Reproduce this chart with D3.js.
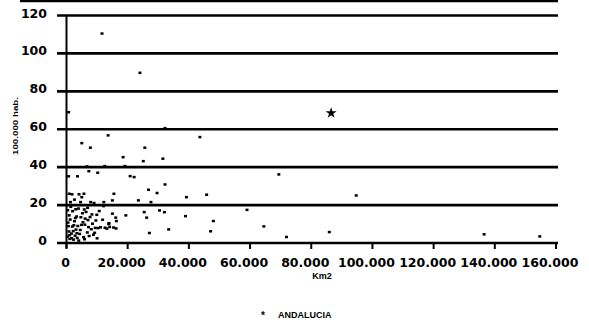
<!DOCTYPE html>
<html>
<head>
<meta charset="utf-8">
<script src="https://cdn.jsdelivr.net/npm/d3@7"></script>
<style>
  html, body { margin: 0; padding: 0; background: #fff; }
  svg { display: block; }
  .tick-label { font-family: "DejaVu Sans", sans-serif; font-weight: bold; font-size: 12.5px; fill: #000; }
  .small { font-family: "Liberation Sans", Arial, sans-serif; font-weight: bold; fill: #000; }
</style>
</head>
<body>
<svg id="chart" width="589" height="322"></svg>
<script>
// ---- data ----
const xTicks = [0, 20000, 40000, 60000, 80000, 100000, 120000, 140000, 160000];
const xTickLabels = ["0", "20.000", "40.000", "60.000", "80.000", "100.000", "120.000", "140.000", "160.000"];
const yTicks = [0, 20, 40, 60, 80, 100, 120];
const yTickLabels = ["0", "20", "40", "60", "80", "100", "120"];

// scattered points: area (thousand km2) and value (per 100.000 hab.)
const pointsKm2 = [
  11.6, 24.0, 0.7, 13.6, 5.0, 7.8, 25.6, 18.5, 25.1, 31.5, 32.2, 43.6,
  6.7, 7.3, 10.2, 12.5, 19.1, 0.7, 3.6, 20.8, 22.1,
  32.2, 29.6, 26.8, 15.5, 0.9, 39.2, 23.5, 27.6, 15.0, 12.2, 69.4, 45.8, 94.7,
  1.8, 5.0, 4.1, 5.7, 2.6, 4.6, 7.9, 9.0, 1.3,
  25.4, 30.4, 32.0, 26.2, 38.9, 48.0, 47.1, 64.5, 33.4, 27.1, 59.0, 71.9, 85.9, 136.5, 154.7,
  19.4, 15.0, 16.3, 13.9, 16.1,
  0.3, 0.8, 0.5, 1.1, 0.9, 0.4, 1.6, 2.3, 1.9, 2.8, 1.2, 3.1,
  2.0, 3.5, 2.6, 4.3, 3.9, 4.9, 3.3, 5.6, 4.5, 6.1, 5.2, 6.8,
  1.4, 7.2, 2.9, 6.4, 8.1, 5.9, 3.7, 7.7, 8.8, 4.0, 9.4, 6.9,
  2.2, 5.4, 10.3, 7.4, 3.0, 8.5, 11.1, 9.9, 1.0, 4.7, 12.6, 10.7,
  13.2, 6.0, 14.1, 11.8, 15.4, 9.2, 16.2, 13.8, 8.3, 0.6, 10.0, 12.1,
  2.4, 5.8, 7.0, 3.4, 1.7, 9.6
];
const pointsValue = [
  110.5, 89.8, 69.0, 56.8, 52.7, 50.3, 50.3, 45.3, 43.2, 44.5, 60.6, 55.9,
  40.4, 37.9, 37.1, 40.6, 40.6, 35.2, 35.2, 35.3, 34.8,
  30.9, 26.4, 28.1, 26.0, 26.0, 24.2, 22.5, 21.6, 22.5, 21.6, 36.2, 25.5, 25.1,
  25.7, 24.2, 25.7, 26.0, 22.9, 21.6, 21.6, 21.1, 21.6,
  16.3, 17.2, 16.3, 13.4, 14.2, 11.6, 6.2, 8.8, 7.2, 5.3, 17.5, 3.2, 5.8, 4.6, 3.5,
  14.6, 15.5, 11.6, 10.5, 13.4,
  3.4, 6.1, 10.8, 2.2, 14.6, 17.3, 5.0, 1.8, 8.7, 3.9, 12.4, 7.1,
  16.8, 2.7, 11.5, 4.8, 18.2, 9.6, 14.0, 3.1, 6.9, 12.9, 15.7, 5.6,
  19.1, 8.4, 13.2, 16.4, 7.3, 2.0, 9.0, 13.7, 4.4, 1.3, 8.0, 18.6,
  6.3, 11.0, 7.9, 3.7, 17.8, 10.2, 8.3, 14.9, 4.2, 13.6, 8.1, 16.9,
  7.6, 9.7, 8.5, 12.3, 8.2, 5.4, 7.7, 10.0, 15.1, 8.9, 2.5, 19.5,
  9.4, 17.7, 12.1, 5.2, 2.6, 11.9
];

// highlighted region
const highlightName = ["ANDALUCIA"];
const highlightKm2 = [86.5];
const highlightValue = [68.5];

const xTitle = "Km2";
const yTitle = "100.000 hab.";

// ---- drawing ----
const svg = d3.select("#chart");
const x = d3.scaleLinear().domain([0, 160000]).range([66.5, 556]);
const y = d3.scaleLinear().domain([0, 120]).range([243, 15.5]);

// top border line (cut off at top of scan)
svg.append("line")
  .attr("x1", 20).attr("x2", 558).attr("y1", 1).attr("y2", 1)
  .attr("stroke", "#000").attr("stroke-width", 2.5);

// horizontal gridlines
svg.append("g").selectAll("line").data(yTicks).join("line")
  .attr("x1", 57).attr("x2", 558)
  .attr("y1", d => y(d)).attr("y2", d => y(d))
  .attr("stroke", "#000").attr("stroke-width", 2.6);

// y axis line
svg.append("line")
  .attr("x1", x(0)).attr("x2", x(0)).attr("y1", y(120)).attr("y2", y(0) + 5)
  .attr("stroke", "#000").attr("stroke-width", 2);

// x ticks
svg.append("g").selectAll("line").data(xTicks).join("line")
  .attr("x1", d => x(d)).attr("x2", d => x(d))
  .attr("y1", y(0)).attr("y2", y(0) + 6)
  .attr("stroke", "#000").attr("stroke-width", 2);

// x tick labels
svg.append("g").selectAll("text").data(xTicks).join("text")
  .attr("class", "tick-label")
  .attr("x", (d, i) => x(d) - (i === 0 ? 1 : 6))
  .attr("y", 267)
  .attr("text-anchor", "middle")
  .text((d, i) => xTickLabels[i]);

// y tick labels
svg.append("g").selectAll("text").data(yTicks).join("text")
  .attr("class", "tick-label")
  .attr("x", 47)
  .attr("y", d => y(d) + 2)
  .attr("text-anchor", "end")
  .text((d, i) => yTickLabels[i]);

// points
const pts = pointsKm2.map((k, i) => ({ k: k * 1000, v: pointsValue[i] }));
svg.append("g").selectAll("rect").data(pts).join("rect")
  .attr("x", d => x(d.k) - 1.5)
  .attr("y", d => y(d.v) - 1.2)
  .attr("width", 3).attr("height", 2.5)
  .attr("fill", "#000");

// highlighted star
svg.append("g").selectAll("path").data(highlightKm2).join("path")
  .attr("d", d3.symbol().type(d3.symbolStar).size(38))
  .attr("transform", (d, i) => `translate(${x(d * 1000)},${y(highlightValue[i])})`)
  .attr("fill", "#000");

// axis titles
svg.append("text").attr("class", "small")
  .attr("x", 322).attr("y", 279).attr("text-anchor", "middle")
  .attr("font-size", 9).text(xTitle);

svg.append("text").attr("class", "small")
  .attr("transform", "translate(18,126) rotate(-90)")
  .attr("text-anchor", "middle")
  .attr("font-size", 8).attr("font-weight", "normal")
  .attr("textLength", 58).attr("lengthAdjust", "spacingAndGlyphs")
  .text(yTitle);

// legend
svg.append("text").attr("class", "small")
  .attr("x", 263).attr("y", 319).attr("text-anchor", "middle")
  .attr("font-size", 10).text("*");
svg.append("text").attr("class", "small")
  .attr("x", 278).attr("y", 318)
  .attr("font-size", 9).text(highlightName[0]);
</script>
</body>
</html>
